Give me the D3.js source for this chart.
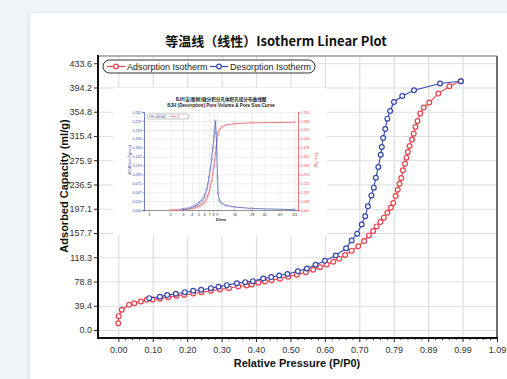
<!DOCTYPE html>
<html>
<head>
<meta charset="utf-8">
<script src="https://cdn.jsdelivr.net/npm/d3@7"></script>
<style>
  html, body { margin: 0; padding: 0; background: #f1f5f9; overflow: hidden; }
  #card { position: absolute; left: 30px; top: 13px; width: 500px; height: 400px; background: #fff; box-shadow: 0 1px 5px rgba(0,0,0,0.13); }
  #chart { position: absolute; left: 0; top: 0; }
  text { font-family: "Liberation Sans", Arial, sans-serif; }
</style>
</head>
<body>
<div id="card"></div>
<svg id="chart" width="507" height="379"></svg>
<script>
// main isotherm
var adsorptionP = [0.000, 0.001, 0.010, 0.031, 0.046, 0.065, 0.082, 0.099, 0.120, 0.144, 0.168, 0.190, 0.216, 0.240, 0.267, 0.293, 0.319, 0.346, 0.370, 0.385, 0.404, 0.423, 0.442, 0.466, 0.490, 0.515, 0.541, 0.562, 0.582, 0.601, 0.620, 0.637, 0.654, 0.673, 0.692, 0.709, 0.723, 0.735, 0.745, 0.756, 0.766, 0.776, 0.786, 0.793, 0.800, 0.806, 0.811, 0.816, 0.821, 0.827, 0.831, 0.835, 0.840, 0.847, 0.852, 0.857, 0.863, 0.871, 0.881, 0.897, 0.923, 0.955, 0.988]
var adsorptionV = [11.0, 22.5, 33.0, 41.0, 43.6, 46.4, 49.0, 49.6, 51.0, 53.4, 55.6, 57.0, 59.4, 61.5, 63.7, 66.0, 68.0, 70.8, 72.4, 74.0, 77.0, 79.0, 81.0, 83.5, 86.5, 90.0, 94.0, 98.0, 102.0, 106.5, 111.0, 116.0, 122.0, 129.0, 136.0, 144.5, 153.8, 160.8, 168.4, 175.4, 182.6, 190.7, 198.8, 206.3, 217.7, 228.0, 237.8, 247.0, 259.5, 270.4, 280.2, 289.3, 299.0, 309.5, 319.2, 330.0, 339.7, 351.8, 361.5, 369.7, 384.3, 396.2, 404.3]

var desorptionP = [0.089, 0.120, 0.141, 0.166, 0.192, 0.216, 0.239, 0.267, 0.289, 0.313, 0.342, 0.366, 0.388, 0.418, 0.441, 0.464, 0.488, 0.518, 0.544, 0.569, 0.596, 0.627, 0.657, 0.673, 0.689, 0.702, 0.712, 0.720, 0.730, 0.737, 0.743, 0.750, 0.757, 0.760, 0.764, 0.770, 0.776, 0.784, 0.795, 0.819, 0.853, 0.928, 0.988]
var desorptionV = [51.8, 54.0, 56.7, 58.9, 61.5, 63.7, 65.4, 68.0, 70.3, 72.9, 76.1, 77.8, 79.4, 83.8, 86.0, 88.7, 91.0, 95.5, 100.0, 106.0, 112.6, 121.2, 133.0, 145.6, 156.5, 171.6, 185.0, 201.0, 218.8, 231.4, 247.6, 265.0, 285.0, 297.4, 312.0, 326.7, 343.6, 356.0, 370.7, 380.4, 389.7, 400.6, 404.3]

var yTicks = [0, 39.42, 78.84, 118.26, 157.68, 197.1, 236.52, 275.94, 315.36, 354.78, 394.2, 433.62]
var xTicks = [0, 0.0993, 0.1986, 0.2979, 0.3972, 0.4965, 0.5958, 0.6951, 0.7944, 0.8937, 0.993, 1.0923]

// inset: BJH desorption pore curve
var poreD1 = [2.9, 3.2, 3.5, 3.8, 4.1, 4.4, 4.7, 5.0, 5.3, 5.6, 5.9, 6.2, 6.5, 6.8, 7.0, 7.3, 7.6, 7.9, 8.2, 8.4, 8.6, 8.8, 9.0, 9.2, 9.4, 9.8, 10.5, 12, 16, 28, 111]
var dVdD = [0.002, 0.003, 0.004, 0.006, 0.008, 0.011, 0.014, 0.018, 0.022, 0.027, 0.033, 0.042, 0.055, 0.072, 0.088, 0.108, 0.135, 0.165, 0.195, 0.214, 0.237, 0.205, 0.150, 0.090, 0.045, 0.025, 0.018, 0.012, 0.008, 0.004, 0.001]
var poreD2 = [2.0, 2.3, 2.6, 2.9, 3.2, 3.5, 3.8, 4.1, 4.4, 4.7, 5.0, 5.3, 5.6, 5.9, 6.2, 6.5, 6.8, 7.0, 7.3, 7.6, 7.9, 8.2, 8.4, 8.6, 8.8, 9.0, 9.2, 9.4, 9.8, 10.5, 12, 16, 28, 111]
var cumV = [0.000, 0.001, 0.002, 0.003, 0.005, 0.007, 0.010, 0.013, 0.017, 0.022, 0.028, 0.035, 0.044, 0.055, 0.070, 0.090, 0.115, 0.140, 0.175, 0.220, 0.275, 0.335, 0.380, 0.430, 0.480, 0.530, 0.565, 0.590, 0.615, 0.635, 0.650, 0.662, 0.668, 0.672]
var insetLeftTicks = [0, 0.024, 0.047, 0.071, 0.095, 0.119, 0.142, 0.166, 0.190, 0.213, 0.237, 0.261]
var insetRightTicks = [0, 0.068, 0.137, 0.205, 0.273, 0.341, 0.410, 0.478, 0.546, 0.615, 0.683, 0.751]
var insetXTicks = [1, 2, 3, 4, 5, 6, 7, 8, 9, 16, 28, 42, 69, 111]

var red = "#e8434d"
var blue = "#3446ad"

var svg = d3.select("#chart")

var plot = { left: 98, right: 497, top: 56, bottom: 338 }

var x = d3.scaleLinear().domain([-0.0586, 1.0923]).range([plot.left, plot.right])
var y = d3.scaleLinear().domain([-13, 445.4]).range([plot.bottom, plot.top])

// grid
svg.append("g")
  .attr("transform", "translate(0," + plot.bottom + ")")
  .call(d3.axisBottom(x).tickValues(xTicks.slice(0, -1)).tickSize(-(plot.bottom - plot.top)).tickFormat(""))
  .call(g => g.select(".domain").remove())
  .call(g => g.selectAll("line").attr("stroke", "#dedede").attr("stroke-width", 1.2))

svg.append("g")
  .attr("transform", "translate(" + plot.left + ",0)")
  .call(d3.axisLeft(y).tickValues(yTicks).tickSize(-(plot.right - plot.left)).tickFormat(""))
  .call(g => g.select(".domain").remove())
  .call(g => g.selectAll("line").attr("stroke", "#dedede").attr("stroke-width", 1.2))

// axes
var xMinor = []
for (var i = 0; i < xTicks.length - 1; i++) {
  for (var k = 1; k < 5; k++) xMinor.push(xTicks[i] + (xTicks[i + 1] - xTicks[i]) * k / 5)
}
svg.append("g")
  .attr("transform", "translate(0," + plot.bottom + ")")
  .call(d3.axisBottom(x).tickValues(xMinor).tickSize(2).tickFormat(""))
  .call(g => g.select(".domain").remove())
  .call(g => g.selectAll("line").attr("stroke", "#444"))

svg.append("g")
  .attr("transform", "translate(0," + plot.bottom + ")")
  .call(d3.axisBottom(x).tickValues(xTicks).tickSize(4).tickPadding(5).tickFormat(d3.format(".2f")))
  .call(g => g.select(".domain").remove())
  .call(g => g.selectAll("line").attr("stroke", "#222"))
  .call(g => g.selectAll("text").attr("font-size", 9).attr("fill", "#333").attr("font-family", "Liberation Sans, Arial, sans-serif"))

svg.append("g")
  .attr("transform", "translate(" + plot.left + ",0)")
  .call(d3.axisLeft(y).tickValues(yTicks).tickSize(4).tickPadding(2).tickFormat(d3.format(".1f")))
  .call(g => g.select(".domain").remove())
  .call(g => g.selectAll("line").attr("stroke", "#222"))
  .call(g => g.selectAll("text").attr("font-size", 9).attr("fill", "#333").attr("font-family", "Liberation Sans, Arial, sans-serif"))

// frame
svg.append("line").attr("x1", plot.left).attr("x2", plot.right).attr("y1", plot.top).attr("y2", plot.top)
  .attr("stroke", "#9a9a9a").attr("stroke-width", 1.3)
svg.append("line").attr("x1", plot.right).attr("x2", plot.right).attr("y1", plot.top).attr("y2", plot.bottom)
  .attr("stroke", "#6e6e6e").attr("stroke-width", 2)
svg.append("line").attr("x1", plot.left).attr("x2", plot.right + 1).attr("y1", plot.bottom).attr("y2", plot.bottom)
  .attr("stroke", "#111").attr("stroke-width", 2)
svg.append("line").attr("x1", plot.left).attr("x2", plot.left).attr("y1", plot.top - 1).attr("y2", plot.bottom + 1)
  .attr("stroke", "#111").attr("stroke-width", 2)

// titles
svg.append("text").attr("x", 276).attr("y", 46).attr("text-anchor", "middle")
  .attr("font-size", 13).attr("font-weight", "bold").attr("fill", "#111")
  .style("font-family", "'Noto Sans CJK SC', 'Noto Sans', sans-serif")
  .text("等温线（线性）Isotherm Linear Plot")

svg.append("text").attr("x", 297).attr("y", 367).attr("text-anchor", "middle")
  .attr("font-size", 11).attr("font-weight", "bold").attr("fill", "#111")
  .text("Relative Pressure (P/P0)")

svg.append("text").attr("transform", "translate(68,186) rotate(-90)").attr("text-anchor", "middle")
  .attr("font-size", 11).attr("font-weight", "bold").attr("fill", "#111")
  .text("Adsorbed Capacity (ml/g)")

// series
function drawSeries(px, py, color) {
  var pts = px.map((p, i) => [p, py[i]])
  svg.append("path")
    .attr("d", d3.line().x(d => x(d[0])).y(d => y(d[1]))(pts))
    .attr("fill", "none").attr("stroke", color).attr("stroke-width", 1.1)
  svg.append("g").selectAll("circle").data(pts).join("circle")
    .attr("cx", d => x(d[0])).attr("cy", d => y(d[1])).attr("r", 2.4)
    .attr("fill", "#fff").attr("stroke", color).attr("stroke-width", 1.2)
}
drawSeries(adsorptionP, adsorptionV, red)
drawSeries(desorptionP, desorptionV, blue)

// legend
var leg = svg.append("g")
leg.append("rect").attr("x", 103).attr("y", 60).attr("width", 212).attr("height", 13).attr("rx", 6.5)
  .attr("fill", "#fff").attr("stroke", "#333").attr("stroke-width", 1)
var legItems = [
  { label: "Adsorption Isotherm", color: red, x: 107 },
  { label: "Desorption Isotherm", color: blue, x: 210 }
]
legItems.forEach(function (d) {
  leg.append("line").attr("x1", d.x).attr("x2", d.x + 18).attr("y1", 66.5).attr("y2", 66.5)
    .attr("stroke", d.color).attr("stroke-width", 1.2)
  leg.append("circle").attr("cx", d.x + 9).attr("cy", 66.5).attr("r", 2.3)
    .attr("fill", "#fff").attr("stroke", d.color).attr("stroke-width", 1.2)
  leg.append("text").attr("x", d.x + 20).attr("y", 70).attr("font-size", 9).attr("fill", "#222").text(d.label)
})

// ---- inset picture ----
var inset = svg.append("g")
inset.append("rect").attr("x", 113).attr("y", 88).attr("width", 214).attr("height", 148).attr("fill", "#fff")

var ip = { left: 144, right: 298, top: 112, bottom: 210 }
var ix = d3.scaleLog().domain([0.85, 125]).range([ip.left, ip.right])
var iyL = d3.scaleLinear().domain([0, 0.261]).range([ip.bottom, ip.top])
var iyR = d3.scaleLinear().domain([0, 0.751]).range([ip.bottom, ip.top])

inset.append("text").attr("x", 221).attr("y", 101).attr("text-anchor", "middle")
  .attr("font-size", 4.6).attr("font-weight", "bold").attr("fill", "#222")
  .style("font-family", "'Noto Sans CJK SC', sans-serif")
  .text("BJH法(脱附)微分积分孔体积孔径分布曲线图")
inset.append("text").attr("x", 221).attr("y", 107).attr("text-anchor", "middle")
  .attr("font-size", 4.6).attr("font-weight", "bold").attr("fill", "#222")
  .text("BJH (Desorption) Pore Volume & Pore Size Curve")

inset.append("g").attr("transform", "translate(0," + ip.bottom + ")")
  .call(d3.axisBottom(ix).tickValues(insetXTicks).tickSize(-(ip.bottom - ip.top)).tickFormat(""))
  .call(g => g.select(".domain").remove())
  .call(g => g.selectAll("line").attr("stroke", "#e2e2e2").attr("stroke-width", 0.6))
inset.append("g").attr("transform", "translate(" + ip.left + ",0)")
  .call(d3.axisLeft(iyL).tickValues(insetLeftTicks).tickSize(-(ip.right - ip.left)).tickFormat(""))
  .call(g => g.select(".domain").remove())
  .call(g => g.selectAll("line").attr("stroke", "#e2e2e2").attr("stroke-width", 0.6))

inset.append("g").attr("transform", "translate(0," + ip.bottom + ")")
  .call(d3.axisBottom(ix).tickValues(insetXTicks).tickSize(1.5).tickPadding(1.5).tickFormat(d3.format("d")))
  .call(g => g.select(".domain").attr("stroke", "#555").attr("stroke-width", 0.6))
  .call(g => g.selectAll("line").attr("stroke", "#555").attr("stroke-width", 0.5))
  .call(g => g.selectAll("text").attr("font-size", 3.8).attr("fill", "#333"))

inset.append("g").attr("transform", "translate(" + ip.left + ",0)")
  .call(d3.axisLeft(iyL).tickValues(insetLeftTicks).tickSize(1.5).tickPadding(1).tickFormat(d3.format(".3f")))
  .call(g => g.select(".domain").attr("stroke", blue).attr("stroke-width", 0.7))
  .call(g => g.selectAll("line").attr("stroke", blue).attr("stroke-width", 0.5))
  .call(g => g.selectAll("text").attr("font-size", 3.6).attr("fill", blue))

inset.append("g").attr("transform", "translate(" + ip.right + ",0)")
  .call(d3.axisRight(iyR).tickValues(insetRightTicks).tickSize(1.5).tickPadding(1).tickFormat(d3.format(".3f")))
  .call(g => g.select(".domain").attr("stroke", red).attr("stroke-width", 0.7))
  .call(g => g.selectAll("line").attr("stroke", red).attr("stroke-width", 0.5))
  .call(g => g.selectAll("text").attr("font-size", 3.6).attr("fill", red))

inset.append("text").attr("x", (ip.left + ip.right) / 2).attr("y", 221).attr("text-anchor", "middle")
  .attr("font-size", 4).attr("font-weight", "bold").attr("fill", "#222").text("D/nm")
inset.append("text").attr("transform", "translate(131,160) rotate(-90)").attr("text-anchor", "middle")
  .attr("font-size", 4).attr("fill", blue).text("dV/dD(cm³/g/nm)")
inset.append("text").attr("transform", "translate(315,160) rotate(90)").attr("text-anchor", "middle")
  .attr("font-size", 4).attr("fill", red).text("V(cm³/g)")

function insetSeries(dx, dy, ys, color) {
  var pts = dx.map((p, i) => [p, dy[i]])
  inset.append("path")
    .attr("d", d3.line().x(d => ix(d[0])).y(d => ys(d[1]))(pts))
    .attr("fill", "none").attr("stroke", color).attr("stroke-width", 0.7)
  inset.append("g").selectAll("circle").data(pts).join("circle")
    .attr("cx", d => ix(d[0])).attr("cy", d => ys(d[1])).attr("r", 0.9)
    .attr("fill", "#fff").attr("stroke", color).attr("stroke-width", 0.45)
}
insetSeries(poreD2, cumV, iyR, red)
insetSeries(poreD1, dVdD, iyL, blue)

// inset legend
var il = inset.append("g")
il.append("rect").attr("x", 147).attr("y", 114).attr("width", 42).attr("height", 5).attr("rx", 2.5)
  .attr("fill", "#fff").attr("stroke", "#666").attr("stroke-width", 0.4)
;[{ label: "dV/dD", color: blue, x: 149 }, { label: "V", color: red, x: 170 }].forEach(function (d) {
  il.append("line").attr("x1", d.x).attr("x2", d.x + 6).attr("y1", 116.5).attr("y2", 116.5)
    .attr("stroke", d.color).attr("stroke-width", 0.5)
  il.append("circle").attr("cx", d.x + 3).attr("cy", 116.5).attr("r", 0.8)
    .attr("fill", "#fff").attr("stroke", d.color).attr("stroke-width", 0.4)
  il.append("text").attr("x", d.x + 7).attr("y", 118).attr("font-size", 3.6).attr("fill", d.color).text(d.label)
})
</script>
</body>
</html>
